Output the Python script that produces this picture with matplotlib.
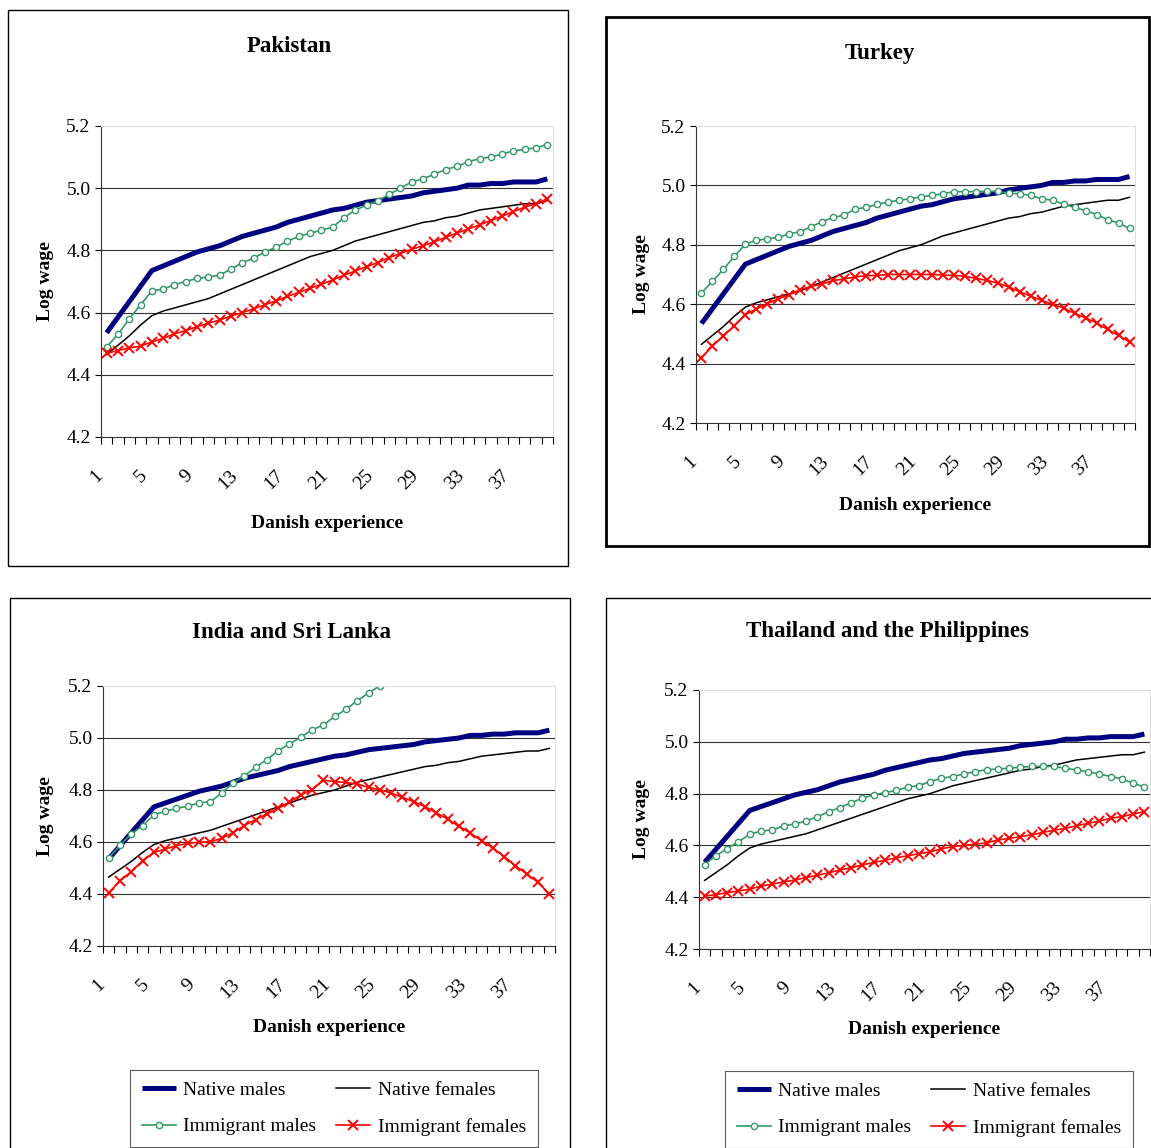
import matplotlib
matplotlib.use("Agg")
import matplotlib.pyplot as plt
from matplotlib.patches import Rectangle
from matplotlib.transforms import ScaledTranslation
import numpy as np

plt.rcParams['font.family'] = ['Liberation Serif', 'DejaVu Serif']

# Danish experience (years), categories 1..40
experience = list(range(1, 41))

# native reference profiles (same in every panel)
native_males = [4.535, 4.585, 4.635, 4.685, 4.735, 4.75, 4.765, 4.78, 4.795, 4.805,
                4.815, 4.83, 4.845, 4.855, 4.865, 4.875, 4.89, 4.90, 4.91, 4.92,
                4.93, 4.935, 4.945, 4.955, 4.96, 4.965, 4.97, 4.975, 4.985, 4.99,
                4.995, 5.00, 5.01, 5.01, 5.015, 5.015, 5.02, 5.02, 5.02, 5.03]
native_females = [4.465, 4.495, 4.525, 4.56, 4.59, 4.605, 4.615, 4.625, 4.635, 4.645,
                  4.66, 4.675, 4.69, 4.705, 4.72, 4.735, 4.75, 4.765, 4.78, 4.79,
                  4.80, 4.815, 4.83, 4.84, 4.85, 4.86, 4.87, 4.88, 4.89, 4.895,
                  4.905, 4.91, 4.92, 4.93, 4.935, 4.94, 4.945, 4.95, 4.95, 4.96]

# Pakistan
pak_imm_males = [4.49, 4.53, 4.58, 4.625, 4.67, 4.675, 4.69, 4.70, 4.71, 4.715,
                 4.72, 4.74, 4.76, 4.775, 4.795, 4.81, 4.83, 4.845, 4.855, 4.865,
                 4.875, 4.905, 4.93, 4.945, 4.96, 4.98, 5.00, 5.02, 5.03, 5.045,
                 5.06, 5.07, 5.085, 5.095, 5.10, 5.11, 5.12, 5.125, 5.13, 5.14]
pak_imm_females = [4.469, 4.478, 4.487, 4.492, 4.506, 4.517, 4.532, 4.542, 4.555, 4.566,
                   4.576, 4.589, 4.60, 4.612, 4.625, 4.638, 4.652, 4.665, 4.678, 4.691,
                   4.705, 4.72, 4.734, 4.748, 4.761, 4.777, 4.79, 4.804, 4.815, 4.828,
                   4.842, 4.856, 4.869, 4.882, 4.896, 4.91, 4.925, 4.939, 4.95, 4.966]

# Turkey
tur_imm_males = [4.638, 4.677, 4.718, 4.761, 4.802, 4.815, 4.82, 4.825, 4.837, 4.844,
                 4.861, 4.878, 4.892, 4.90, 4.92, 4.926, 4.936, 4.944, 4.95, 4.955,
                 4.961, 4.966, 4.972, 4.979, 4.979, 4.979, 4.98, 4.98, 4.973, 4.972,
                 4.966, 4.955, 4.95, 4.937, 4.926, 4.915, 4.902, 4.885, 4.873, 4.855]
tur_imm_females = [4.42, 4.459, 4.493, 4.528, 4.565, 4.584, 4.602, 4.618, 4.632, 4.649,
                   4.66, 4.668, 4.68, 4.685, 4.692, 4.696, 4.697, 4.70, 4.70, 4.70,
                   4.70, 4.70, 4.698, 4.697, 4.694, 4.687, 4.68, 4.671, 4.658, 4.642,
                   4.627, 4.613, 4.599, 4.587, 4.569, 4.554, 4.537, 4.515, 4.495, 4.473]

# India and Sri Lanka (immigrant males leave the chart above 5.2 after year 25)
ind_imm_males = [4.538, 4.588, 4.631, 4.663, 4.704, 4.718, 4.729, 4.738, 4.75, 4.755,
                 4.788, 4.827, 4.854, 4.887, 4.917, 4.951, 4.977, 5.003, 5.031, 5.05,
                 5.083, 5.11, 5.144, 5.173, 5.201, 5.235]
ind_imm_females = [4.404, 4.451, 4.486, 4.528, 4.56, 4.573, 4.586, 4.595, 4.599, 4.601,
                   4.614, 4.635, 4.663, 4.686, 4.708, 4.729, 4.753, 4.781, 4.801, 4.838,
                   4.832, 4.829, 4.823, 4.81, 4.801, 4.788, 4.772, 4.755, 4.736, 4.712,
                   4.688, 4.66, 4.635, 4.605, 4.577, 4.544, 4.509, 4.477, 4.445, 4.40]

# Thailand and the Philippines
tha_imm_males = [4.526, 4.56, 4.588, 4.614, 4.643, 4.655, 4.66, 4.675, 4.683, 4.694,
                 4.711, 4.73, 4.746, 4.765, 4.782, 4.795, 4.804, 4.812, 4.825, 4.831,
                 4.846, 4.859, 4.866, 4.876, 4.885, 4.892, 4.895, 4.898, 4.902, 4.905,
                 4.905, 4.905, 4.897, 4.892, 4.884, 4.876, 4.866, 4.857, 4.84, 4.825]
tha_imm_females = [4.404, 4.41, 4.418, 4.424, 4.431, 4.443, 4.45, 4.459, 4.466, 4.476,
                   4.485, 4.494, 4.505, 4.514, 4.525, 4.534, 4.543, 4.552, 4.56, 4.568,
                   4.575, 4.587, 4.595, 4.60, 4.605, 4.61, 4.621, 4.627, 4.634, 4.641,
                   4.65, 4.659, 4.666, 4.676, 4.685, 4.694, 4.705, 4.711, 4.721, 4.73]

countries = ['Pakistan', 'Turkey', 'India and Sri Lanka', 'Thailand and the Philippines']
imm_males = [pak_imm_males, tur_imm_males, ind_imm_males, tha_imm_males]
imm_females = [pak_imm_females, tur_imm_females, ind_imm_females, tha_imm_females]

W, H = 1151, 1148
fig = plt.figure(figsize=(W / 100, H / 100), dpi=100)

# layout in pixels: plot area, frame, frame width, title pos, ylabel x, xlabel y, legend pos
layout = [
    dict(ax=(101, 126, 553, 437), box=(8, 10, 568, 566), blw=1.0, title=(289, 47), ylab=45, xlab=523, leg=None),
    dict(ax=(696, 126, 1135, 423), box=(606, 17, 1149, 546), blw=2.0, title=(880, 54), ylab=641, xlab=506, leg=None),
    dict(ax=(103, 686, 555, 946), box=(10, 598, 570, 1170), blw=1.0, title=(291, 632), ylab=45, xlab=1028, leg=(130, 1070)),
    dict(ax=(699, 690, 1150, 949), box=(606, 598, 1180, 1170), blw=1.0, title=(887, 632), ylab=641, xlab=1030, leg=(725, 1071)),
]

for name, im, fm, lay in zip(countries, imm_males, imm_females, layout):
    l, t, r, b = lay['ax']
    ax = fig.add_axes([l / W, 1 - b / H, (r - l) / W, (b - t) / H])

    bx0, by0, bx1, by1 = lay['box']
    fig.add_artist(Rectangle((bx0 / W, 1 - by1 / H), (bx1 - bx0) / W, (by1 - by0) / H,
                             transform=fig.transFigure, fill=False, edgecolor='black',
                             linewidth=lay['blw']))

    h1, = ax.plot(experience, native_males, color='#000080', lw=3.6, solid_capstyle='butt',
                  label='Native males')
    h2, = ax.plot(experience, native_females, color='black', lw=1.1, label='Native females')
    h3, = ax.plot(experience[:len(im)], im, color='#339966', lw=1.2, marker='o', ms=4.5,
                  mfc='white', mec='#339966', mew=1.0, label='Immigrant males')
    h4, = ax.plot(experience, fm, color='#ff0000', lw=1.2, marker='x', ms=7, mew=1.4,
                  label='Immigrant females')

    ax.set_xlim(0.5, 40.5)
    ax.set_ylim(4.2, 5.2)
    ax.set_yticks(np.arange(4.2, 5.21, 0.2))
    ax.set_yticklabels(['%.1f' % v for v in np.arange(4.2, 5.21, 0.2)], fontsize=14)
    for v in [4.4, 4.6, 4.8, 5.0]:
        ax.axhline(v, color='#333333', lw=0.8, zorder=0)

    ax.set_xticks(range(1, 41, 4))
    ax.set_xticklabels([str(k) for k in range(1, 41, 4)], fontsize=14, rotation=45,
                       ha='right', va='center', rotation_mode='anchor')
    ax.set_xticks(np.arange(0.5, 41, 1), minor=True)
    ax.tick_params(axis='x', which='major', length=0, pad=26)
    ax.tick_params(axis='x', which='minor', length=5, width=0.8, direction='out')
    ax.tick_params(axis='y', which='major', length=4.5, width=0.8, pad=3)
    off = ScaledTranslation(-7 / 100, 0, fig.dpi_scale_trans)
    for lab in ax.get_xticklabels():
        lab.set_transform(lab.get_transform() + off)

    ax.spines['left'].set_color('#333333')
    ax.spines['bottom'].set_color('#333333')
    ax.spines['top'].set_color('#dddddd')
    ax.spines['right'].set_color('#dddddd')
    for s in ax.spines.values():
        s.set_linewidth(0.8)

    fig.text(lay['title'][0] / W, 1 - lay['title'][1] / H, name, fontsize=16.5,
             fontweight='bold', ha='center', va='center')
    fig.text(lay['ylab'] / W, 1 - (t + b) / 2 / H, 'Log wage', fontsize=14,
             fontweight='bold', rotation=90, ha='center', va='center')
    fig.text((l + r) / 2 / W, 1 - lay['xlab'] / H, 'Danish experience', fontsize=14,
             fontweight='bold', ha='center', va='center')

    if lay['leg'] is not None:
        lg = fig.legend([h1, h3, h2, h4],
                        ['Native males', 'Immigrant males', 'Native females', 'Immigrant females'],
                        ncol=2, loc='upper left',
                        bbox_to_anchor=(lay['leg'][0] / W, 1 - lay['leg'][1] / H),
                        fontsize=14, frameon=True, fancybox=False, borderaxespad=0,
                        handlelength=1.75, handletextpad=0.4, columnspacing=1.0,
                        labelspacing=0.95, borderpad=0.6)
        lg.get_frame().set_edgecolor('#333333')
        lg.get_frame().set_linewidth(0.8)

fig.savefig('out.png', dpi=100)
